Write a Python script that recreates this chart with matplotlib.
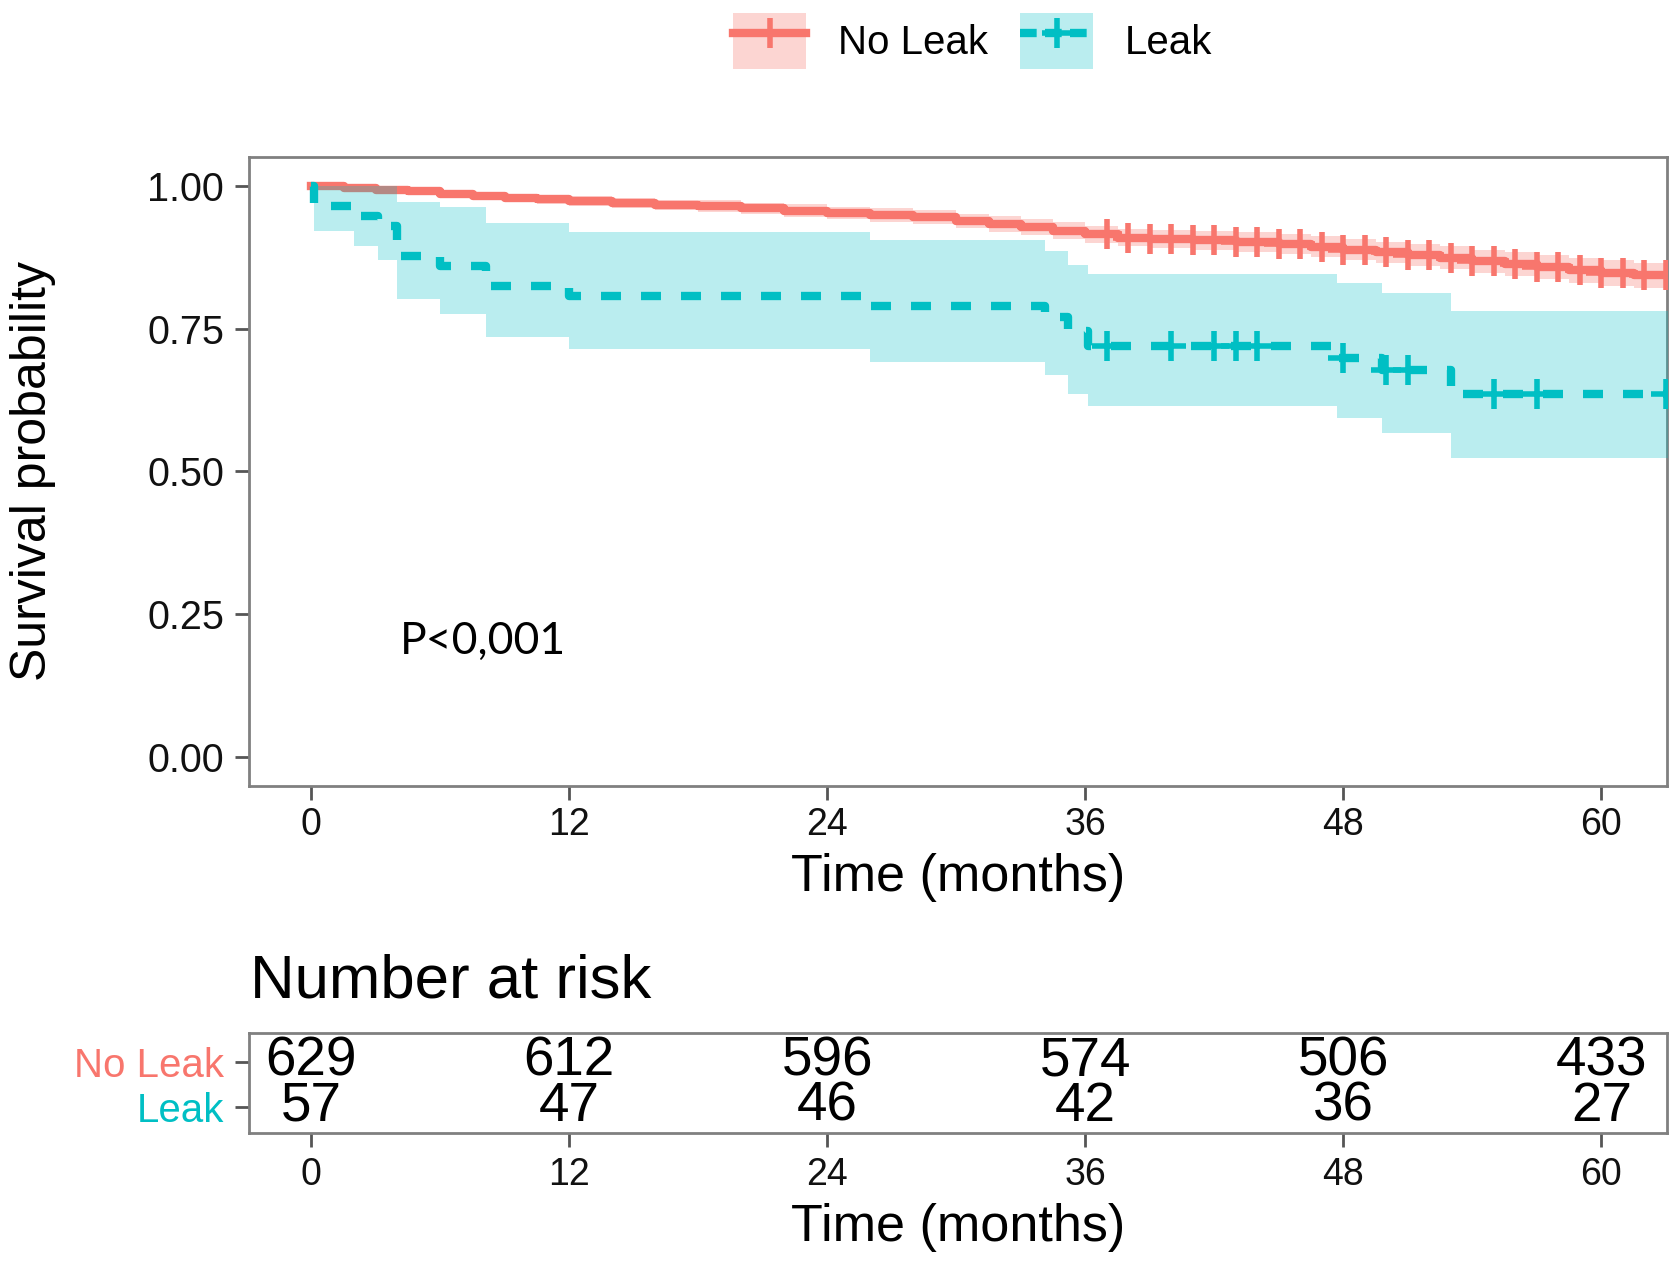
import matplotlib
matplotlib.use('Agg')
import matplotlib.pyplot as plt
import numpy as np
from matplotlib.patches import Patch
from matplotlib.lines import Line2D
from matplotlib.legend_handler import HandlerTuple

plt.rcParams['font.family'] = ['Liberation Sans', 'DejaVu Sans']

RED = '#F8766D'
TEAL = '#00BFC4'

# Kaplan-Meier, No Leak group (step times in months)
nl_time = [0, 1.5, 3, 4.5, 6, 7.5, 9, 10.5, 12, 14, 16, 18, 20, 22, 24, 26, 28, 30, 31.5, 33,
           34.5, 36, 37.5, 39, 41, 43, 45, 46.5, 48, 49.5, 51, 52.5, 54, 55.5, 57, 58.5, 60, 61.5]
nl_surv = [1.0, 0.996, 0.993, 0.990, 0.986, 0.982, 0.979, 0.976, 0.973, 0.969, 0.966, 0.964, 0.960,
           0.956, 0.952, 0.949, 0.945, 0.938, 0.932, 0.927, 0.921, 0.915, 0.909, 0.906, 0.904, 0.901,
           0.898, 0.893, 0.888, 0.883, 0.879, 0.874, 0.868, 0.863, 0.857, 0.852, 0.847, 0.843]
nl_lower = [1.0, 0.993, 0.989, 0.985, 0.980, 0.975, 0.972, 0.968, 0.965, 0.960, 0.957, 0.954, 0.950,
            0.945, 0.941, 0.937, 0.933, 0.925, 0.918, 0.913, 0.906, 0.900, 0.894, 0.890, 0.888, 0.884,
            0.881, 0.875, 0.870, 0.864, 0.860, 0.854, 0.848, 0.842, 0.836, 0.830, 0.825, 0.821]
nl_upper = [1.0, 0.999, 0.997, 0.995, 0.992, 0.989, 0.986, 0.984, 0.981, 0.978, 0.975, 0.974, 0.970,
            0.967, 0.963, 0.961, 0.957, 0.951, 0.946, 0.941, 0.936, 0.930, 0.924, 0.922, 0.920, 0.918,
            0.915, 0.911, 0.906, 0.902, 0.898, 0.894, 0.888, 0.884, 0.878, 0.874, 0.869, 0.865]
nl_censor = [37, 38, 39, 40, 41, 42, 43, 44, 45, 46, 47, 48, 49, 50, 51, 52, 53, 54, 55, 56,
             57, 58, 59, 60, 61, 62, 63]

# Leak group
leak_time = [0, 0.1, 2.0, 3.1, 4.0, 6.0, 8.1, 12.0, 26.0, 34.1, 35.2, 36.1, 47.7, 49.8, 53.0]
leak_surv = [1.0, 0.965, 0.947, 0.930, 0.877, 0.860, 0.825, 0.807, 0.789, 0.771, 0.746, 0.720,
             0.699, 0.678, 0.636]
leak_lower = [1.0, 0.921, 0.895, 0.870, 0.801, 0.776, 0.735, 0.715, 0.692, 0.669, 0.636, 0.615,
              0.593, 0.568, 0.523]
leak_upper = [1.0, 1.0, 1.0, 1.0, 0.972, 0.962, 0.934, 0.918, 0.904, 0.885, 0.862, 0.846,
              0.830, 0.813, 0.780]
leak_censor = [37, 40, 42, 43, 44, 48, 50, 51, 55, 57, 63]

# number at risk
risk_times = [0, 12, 24, 36, 48, 60]
risk_noleak = [629, 612, 596, 574, 506, 433]
risk_leak = [57, 47, 46, 42, 36, 27]

T_END = 63.5
XLIM = (-2.9, 63.05)
LW = 6
MS, MEW = 22, 4


def ext(t, v):
    return np.append(t, T_END), np.append(v, v[-1])


def at(t, v, x):
    idx = np.searchsorted(t, x, side='right') - 1
    return np.array(v)[idx]


W, H = 1676, 1263
fig = plt.figure(figsize=(W / 100, H / 100), dpi=100)

ax = fig.add_axes([249 / W, 1 - 786 / H, (1667 - 249) / W, (786 - 157) / H])

# curves
x, y = ext(nl_time, nl_surv)
ax.step(x, y, where='post', color=RED, lw=LW, zorder=2)
x, y = ext(leak_time, leak_surv)
ln, = ax.step(x, y, where='post', color=TEAL, lw=LW, zorder=2)
ln.set_dashes((2.4, 2.4))

# confidence bands
x, lo = ext(nl_time, nl_lower)
_, hi = ext(nl_time, nl_upper)
ax.fill_between(x, lo, hi, step='post', color=RED, alpha=0.3, lw=0, zorder=3)
x, lo = ext(leak_time, leak_lower)
_, hi = ext(leak_time, leak_upper)
ax.fill_between(x, lo, hi, step='post', color=TEAL, alpha=0.27, lw=0, zorder=3)

# censor marks
ax.plot(nl_censor, at(nl_time, nl_surv, nl_censor), ls='none', marker='+', ms=MS, mew=MEW,
        color=RED, zorder=4)
ax.plot(leak_censor, at(leak_time, leak_surv, leak_censor), ls='none', marker='+', ms=MS, mew=MEW,
        color=TEAL, zorder=4)

ax.text(4.1, 0.203, 'P<0,001', fontsize=32, family=['Lato', 'DejaVu Sans'], va='center', ha='left')

ax.set_xlim(XLIM)
ax.set_ylim(-0.05, 1.05)
ax.set_xticks(risk_times)
ax.set_yticks([0, 0.25, 0.5, 0.75, 1.0])
ax.set_yticklabels(['0.00', '0.25', '0.50', '0.75', '1.00'])
ax.tick_params(length=10, width=2, color='#555555', labelsize=27, labelcolor='#111111')
ax.tick_params(axis='x', pad=5)
ax.tick_params(axis='y', pad=8, labelsize=28.5)
for s in ax.spines.values():
    s.set_color('#808080')
    s.set_linewidth(2)

fig.text(958 / W, 1 - 877 / H, 'Time (months)', fontsize=37.5, ha='center', va='center')
fig.text(33 / W, 1 - 471 / H, 'Survival probability', fontsize=36, ha='center', va='center',
         rotation=90)

# legend
h_red = (Patch(facecolor=RED, alpha=0.3, lw=0),
         Line2D([], [], color=RED, lw=LW, marker='+', ms=MS, mew=MEW))
ln_t = Line2D([], [], color=TEAL, lw=LW, marker='+', ms=MS, mew=MEW)
ln_t.set_dashes((2.0, 1.0))
h_teal = (Patch(facecolor=TEAL, alpha=0.27, lw=0), ln_t)
fig.legend([h_red, h_teal], ['No Leak', 'Leak'], loc='center',
           bbox_to_anchor=(973 / W, 1 - 41 / H), ncol=2, frameon=False, fontsize=29,
           handlelength=1.8, handleheight=1.8, handletextpad=0.8, columnspacing=0.8,
           handler_map={tuple: HandlerTuple(ndivide=1, pad=0)})

# risk table
fig.text(250 / W, 1 - 997 / H, 'Number at risk', fontsize=44.5, ha='left', va='baseline')
tax = fig.add_axes([249 / W, 1 - 1133 / H, (1667 - 249) / W, (1133 - 1033) / H])
for t, n in zip(risk_times, risk_noleak):
    tax.text(t, 2, str(n), ha='center', va='center', fontsize=39.5)
for t, n in zip(risk_times, risk_leak):
    tax.text(t, 1, str(n), ha='center', va='center', fontsize=39.5)
tax.set_xlim(XLIM)
tax.set_ylim(0.42, 2.64)
tax.set_xticks(risk_times)
tax.set_yticks([2, 1])
tax.set_yticklabels(['No Leak', 'Leak'])
tax.get_yticklabels()[0].set_color(RED)
tax.get_yticklabels()[1].set_color(TEAL)
tax.tick_params(length=10, width=2, color='#555555', labelsize=27)
tax.tick_params(axis='x', pad=7, labelcolor='#111111')
tax.tick_params(axis='y', pad=8, labelsize=29)
for s in tax.spines.values():
    s.set_color('#808080')
    s.set_linewidth(2)
fig.text(958 / W, 1 - 1227 / H, 'Time (months)', fontsize=37.5, ha='center', va='center')

fig.savefig('out.png', dpi=100)
